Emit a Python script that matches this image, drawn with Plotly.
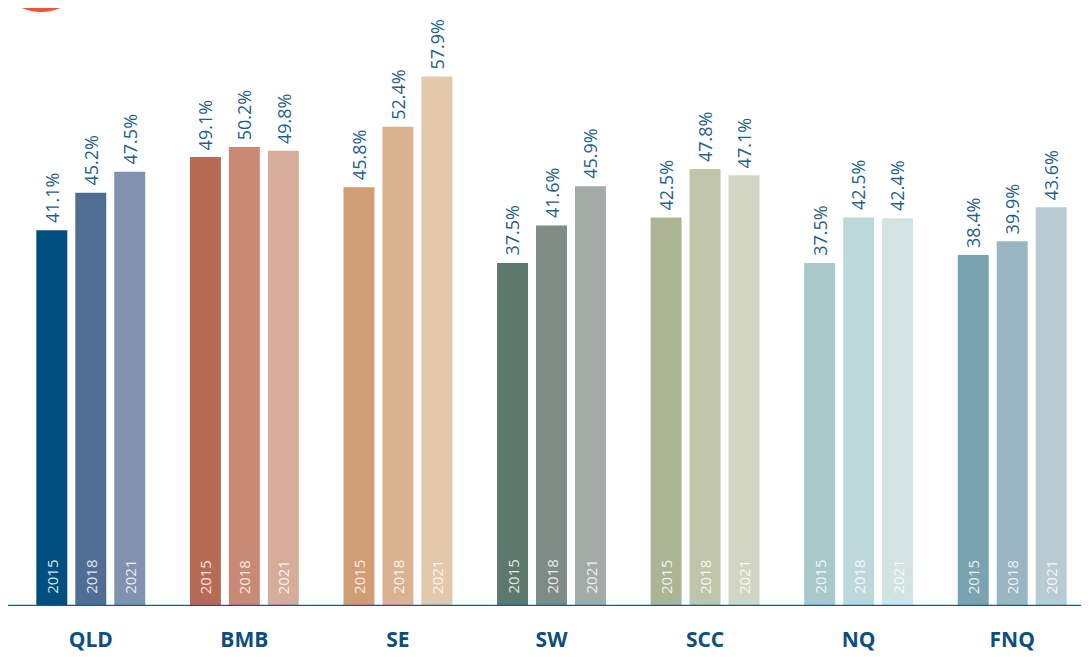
import plotly.graph_objects as go

regions = ["QLD", "BMB", "SE", "SW", "SCC", "NQ", "FNQ"]
years = ["2015", "2018", "2021"]
values = {
    "2015": [41.1, 49.1, 45.8, 37.5, 42.5, 37.5, 38.4],
    "2018": [45.2, 50.2, 52.4, 41.6, 47.8, 42.5, 39.9],
    "2021": [47.5, 49.8, 57.9, 45.9, 47.1, 42.4, 43.6],
}
colors = {
    "2015": ["#00507f", "#b86b54", "#d09d74", "#5d786d", "#abb493", "#a7c9c9", "#7aa3b1"],
    "2018": ["#506d94", "#c88a75", "#dbb28f", "#7e8c85", "#c0c5aa", "#bdd8d8", "#9ab5c2"],
    "2021": ["#8191b0", "#d6ad99", "#e4c8ac", "#a2aba6", "#d2d5c2", "#d1e3e3", "#b9cbd3"],
}

FONT = "Open Sans"
VAL_COLOR = "#1f5f8b"
CAT_COLOR = "#0d4f7c"

fig = go.Figure()
for yr in years:
    fig.add_trace(go.Bar(
        x=regions, y=values[yr], name=yr,
        marker=dict(color=colors[yr], line=dict(width=0)),
        showlegend=False, hoverinfo="x+y",
    ))

shifts = {"2015": -39, "2018": 0, "2021": 39}
for yr in years:
    for r, v in zip(regions, values[yr]):
        # value label above bar
        fig.add_annotation(
            x=r, y=v, xref="x", yref="y", text=f"{v:.1f}%", showarrow=False,
            textangle=-90, yanchor="bottom", xanchor="center", yshift=5, xshift=shifts[yr],
            font=dict(family=FONT, size=18, color=VAL_COLOR),
        )
        # year label inside bar, at the bottom
        fig.add_annotation(
            x=r, y=0, xref="x", yref="y", text=yr, showarrow=False,
            textangle=-90, yanchor="bottom", yshift=10, xshift=shifts[yr],
            font=dict(family=FONT, size=15, color="rgba(255,255,255,0.85)"),
        )

# baseline
fig.add_shape(type="line", xref="paper", yref="y", x0=-0.009, x1=1.0, y0=0, y1=0,
              line=dict(color="#1a5a85", width=2.5))

# logo circle (partially visible at top-left)
fig.add_shape(type="circle", xref="paper", yref="paper", xsizemode="pixel", ysizemode="pixel",
              xanchor=0, yanchor=1, x0=27 - 47, x1=27 + 47, y0=43 - 47, y1=43 + 47,
              fillcolor="#e8573a", line=dict(width=0), layer="above")
fig.add_shape(type="circle", xref="paper", yref="paper", xsizemode="pixel", ysizemode="pixel",
              xanchor=0, yanchor=1, x0=27 - 41, x1=27 + 41, y0=43 - 41, y1=43 + 41,
              fillcolor="#ef8a6e", line=dict(width=0), layer="above")

fig.update_layout(
    width=1081, height=649,
    margin=dict(l=6, r=0, t=0, b=51, autoexpand=False),
    paper_bgcolor="white", plot_bgcolor="white",
    barmode="group", bargap=0.239, bargroupgap=0.205,
    xaxis=dict(showgrid=False, zeroline=False, showline=False, ticks="", automargin=False,
               tickfont=dict(family=FONT, size=21, color=CAT_COLOR, weight="bold"),
               ticklabelstandoff=19),
    yaxis=dict(range=[0, 65.4], visible=False, automargin=False),
    font=dict(family=FONT),
)

fig.write_html("out.html")
